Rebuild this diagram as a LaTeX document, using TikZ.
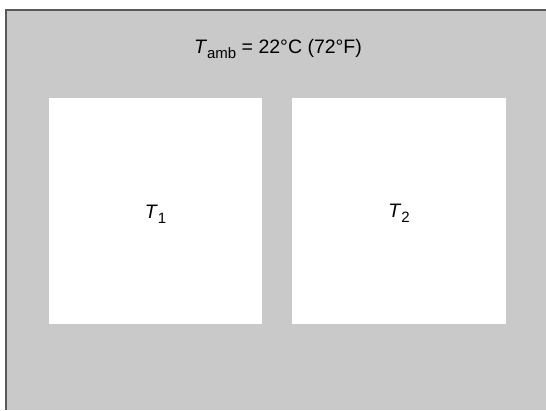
\documentclass[tikz,border=0pt]{standalone}
\usepackage{fontspec}
\setmainfont{Liberation Sans}
\usetikzlibrary{calc}
\newcommand{\tsym}[1]{\textit{T}\raisebox{-0.45ex}{\fontsize{15}{16}\selectfont #1}}

\begin{document}
\begin{tikzpicture}[x=1pt, y=-1pt,
    room/.style={fill=black!21},
    frame/.style={draw=black!65, line width=2pt},
    body/.style={fill=white},
    lbl/.style={font=\fontsize{19.5}{22}\selectfont, inner sep=0pt}]
  \useasboundingbox (0,0) rectangle (546,410);
  % surroundings
  \coordinate (R0) at (6,10);
  \coordinate (R1) at (546,410);
  \fill[room] (R0) rectangle (R1);
  \draw[frame] (6,410) -- (R0) -- (546,10);

  % the two bodies
  \coordinate (A0) at (49,98);
  \coordinate (A1) at (262,324);
  \coordinate (B0) at (292,98);
  \coordinate (B1) at (506,324);
  \fill[body] (A0) rectangle (A1);
  \fill[body] (B0) rectangle (B1);

  \node[lbl] (amb) at (278,49) {\tsym{amb} = 22°C (72°F)};
  \node[lbl] (t1) at ($(A0)!0.5!(A1)+(0,3)$) {\tsym{1}};
  \node[lbl] (t2) at ($(B0)!0.5!(B1)+(0,2)$) {\tsym{2}};
\end{tikzpicture}
\end{document}
